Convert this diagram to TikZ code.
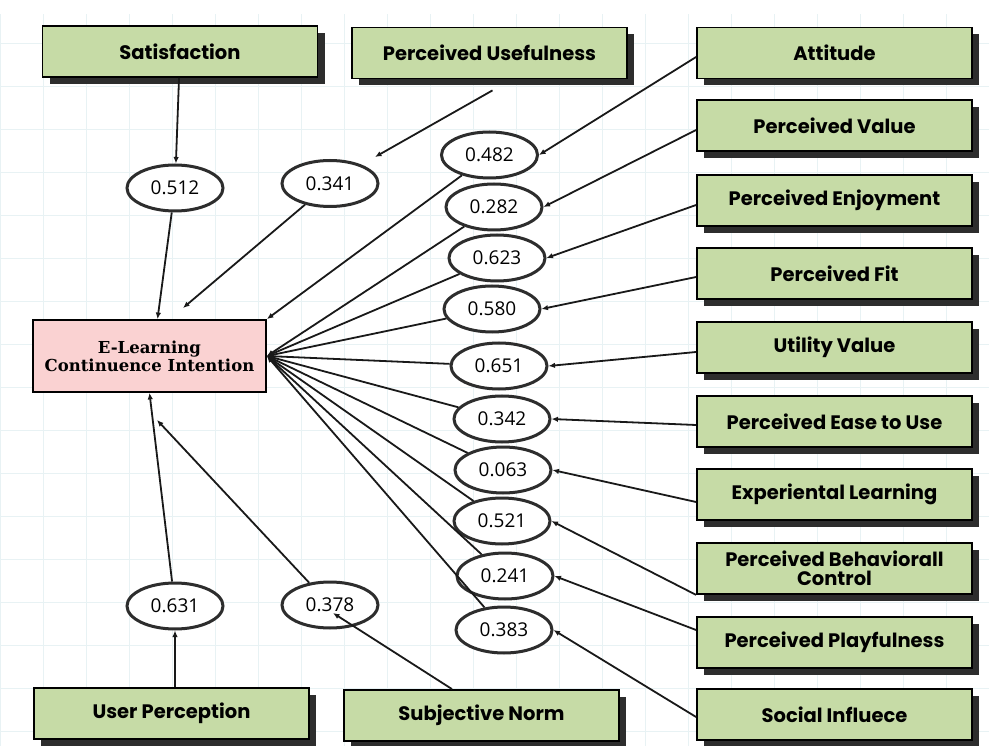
\documentclass[tikz,border=0pt]{standalone}
\usepackage{fontspec}
\setmainfont{Poppins}
\newfontfamily\numfont{Open Sans}
\newfontfamily\titlefont{DejaVu Serif}
\usetikzlibrary{arrows.meta,shadows,shapes.geometric}

\definecolor{boxgreen}{RGB}{198,219,166}
\definecolor{boxpink}{RGB}{250,210,210}
\definecolor{shadowgray}{RGB}{45,45,45}
\definecolor{gridline}{RGB}{232,242,244}

\begin{document}
\begin{tikzpicture}[x=1pt,y=-1pt,
	factor/.style={draw=black,line width=1.8pt,fill=boxgreen,minimum width=275pt,minimum height=51pt,inner sep=2pt,align=center,
		font=\bfseries\fontsize{19.5}{19.5}\selectfont,
		drop shadow={shadow xshift=7pt,shadow yshift=-7pt,fill=shadowgray,opacity=1}},
	coef/.style={ellipse,draw=shadowgray,line width=3pt,fill=white,minimum width=96pt,minimum height=46pt,inner sep=0pt,
		font=\numfont\fontsize{19}{19}\selectfont},
	link/.style={-{Latex[length=6.5pt,width=5.5pt]},line width=1.8pt,draw=black!90}]
		\useasboundingbox (0,0) rectangle (989,746);
		\fill[white] (0,0) rectangle (989,746);
		\draw[gridline,line width=0.6pt,step=43pt] (0,14) grid (989,746);

		% central node
		\node[draw=black,line width=1.8pt,fill=boxpink,minimum width=233pt,minimum height=72pt,align=center,
			font=\titlefont\bfseries\fontsize{16.5}{18}\selectfont] (intent) at (149.5,356) {E-Learning\\Continuence Intention};
		\coordinate (hub) at (intent.east);

		% factor boxes
		\node[factor] (sat) at (180,51.5) {Satisfaction};
		\node[factor] (use) at (489.5,53) {Perceived Usefulness};
		\node[factor] (att) at (834.5,53) {Attitude};
		\node[factor] (val) at (834.5,125.5) {Perceived Value};
		\node[factor] (enj) at (834.5,200.5) {Perceived Enjoyment};
		\node[factor] (fit) at (834.5,273.5) {Perceived Fit};
		\node[factor] (uti) at (834.5,347.5) {Utility Value};
		\node[factor] (eas) at (834.5,421.5) {Perceived Ease to Use};
		\node[factor] (exp) at (834.5,494.5) {Experiental Learning};
		\node[factor] (beh) at (834.5,568.5) {Perceived Behaviorall\\Control};
		\node[factor] (pla) at (834.5,642.5) {Perceived Playfulness};
		\node[factor] (soc) at (834.5,714.5) {Social Influece};
		\node[factor] (usr) at (171.5,713.5) {User Perception};
		\node[factor] (sub) at (481.5,715.5) {Subjective Norm};

		% coefficients
		\node[coef] (c512) at (175,188) {0.512};
		\node[coef] (c341) at (330,183.5) {0.341};
		\node[coef] (c482) at (489.5,155) {0.482};
		\node[coef] (c282) at (494,207) {0.282};
		\node[coef] (c623) at (497,258) {0.623};
		\node[coef] (c580) at (492,309) {0.580};
		\node[coef] (c651) at (499,366) {0.651};
		\node[coef] (c342) at (502,419) {0.342};
		\node[coef] (c063) at (503,470) {0.063};
		\node[coef] (c521) at (502,521) {0.521};
		\node[coef] (c241) at (505,576) {0.241};
		\node[coef] (c383) at (504,630) {0.383};
		\node[coef] (c631) at (175,606) {0.631};
		\node[coef] (c378) at (330,605) {0.378};

		% free ends
		\coordinate (use-tip) at (375,157);
		\coordinate (c341-tip) at (183,308);
		\coordinate (c378-tip) at (157,420);
		\coordinate (sub-tip) at (333,613);

		% left and bottom paths
		\draw[link] (sat) -- (c512);
		\draw[link] (c512) -- ([xshift=8pt]intent.north);
		\draw[link] ([xshift=3pt,yshift=-11pt]use.south) -- (use-tip);
		\draw[link] (c341) -- (c341-tip);
		\draw[link] ([xshift=3.5pt]usr.north) -- (c631);
		\draw[link] (c631) -- (intent.south);
		\draw[link] ([xshift=-29.5pt]sub.north) -- (sub-tip);
		\draw[link] (c378) -- (c378-tip);

		% right paths
		\draw[link] ([yshift=-4pt]att.west) -- (c482.east);
		\draw[link] ([yshift=-4.5pt]val.west) -- (c282.east);
		\draw[link] ([yshift=-4.5pt]enj.west) -- (c623.east);
		\draw[link] ([yshift=-3.5pt]fit.west) -- (c580.east);
		\draw[link] ([yshift=-4.5pt]uti.west) -- (c651.east);
		\draw[link] ([yshift=-3.5pt]eas.west) -- (c342.east);
		\draw[link] ([yshift=-7.5pt]exp.west) -- (c063.east);
		\draw[link] (beh.south west) -- (c521.east);
		\draw[link] ([yshift=12.5pt]pla.west) -- (c241.east);
		\draw[link] ([yshift=-2.5pt]soc.west) -- (c383.east);

		\draw[link] (c482) -- (intent.north east);
		\draw[link] (c282) -- (hub);
		\draw[link] (c623) -- (hub);
		\draw[link] (c580) -- (hub);
		\draw[link] (c651) -- (hub);
		\draw[link] (c342) -- (hub);
		\draw[link] (c063) -- (hub);
		\draw[link] (c521) -- (hub);
		\draw[link] (c241) -- (hub);
		\draw[link] (c383) -- (hub);
\end{tikzpicture}
\end{document}
